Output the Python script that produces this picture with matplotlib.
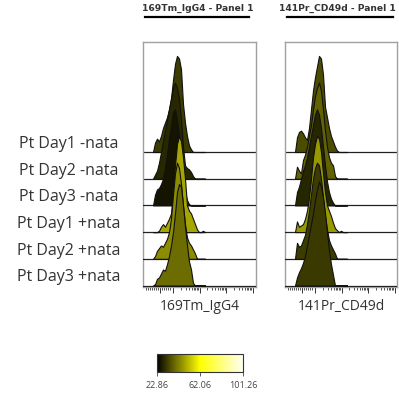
import matplotlib
matplotlib.use("Agg")
import matplotlib.pyplot as plt
import matplotlib.transforms as mtransforms
from matplotlib.colors import LinearSegmentedColormap, Normalize
from matplotlib.cm import ScalarMappable
import numpy as np

# sample names (top to bottom)
samples = ["Pt Day1 -nata", "Pt Day2 -nata", "Pt Day3 -nata",
           "Pt Day1 +nata", "Pt Day2 +nata", "Pt Day3 +nata"]
channels = ["169Tm_IgG4", "141Pr_CD49d"]
titles = ["169Tm_IgG4 - Panel 1", "141Pr_CD49d - Panel 1"]

# colour statistic per histogram (same order as samples)
stat_igg4 = [32.3, 29.0, 26.0, 48.3, 44.4, 39.7]
stat_cd49d = [34.6, 38.0, 28.7, 46.4, 32.3, 31.9]
cbar_ticks = [22.86, 62.06, 101.26]

# histogram bins (channel position) and mode-normalised heights
bins = [10, 12, 14, 16, 18, 20, 22, 24, 26, 28, 30, 32, 34, 36, 38, 40,
        42, 44, 46, 48, 50, 52, 54, 56, 58, 60, 62]

igg4_d1_minus = [0, 0.35, 0.5, 0.4, 0.6, 0.9, 1.1, 1.3, 1.6, 2.0, 2.7, 3.3, 3.6, 3.5,
                 3.1, 1.8, 1.1, 0.6, 0.25, 0.1, 0, 0, 0, 0, 0, 0, 0]
igg4_d2_minus = [0, 0.15, 0.3, 0.6, 1.0, 1.4, 1.8, 2.2, 2.6, 3.0, 3.4, 3.6, 3.4, 3.0,
                 2.2, 1.2, 0.5, 0.4, 0.35, 0.25, 0.1, 0, 0, 0, 0, 0, 0]
igg4_d3_minus = [0, 0.4, 0.6, 0.65, 0.8, 1.0, 1.4, 1.9, 2.5, 3.0, 3.5, 3.6, 3.2, 2.6,
                 1.8, 1.0, 0.5, 0.2, 0.05, 0, 0, 0, 0, 0, 0, 0, 0]
igg4_d1_plus = [0, 0, 0, 0.05, 0.2, 0.3, 0.2, 0.35, 0.5, 0.7, 1.5, 2.5, 3.3, 3.6,
                3.4, 2.8, 2.0, 1.0, 0.8, 0.7, 0.5, 0.3, 0.1, 0, 0, 0.05, 0]
igg4_d2_plus = [0, 0.1, 0.3, 0.4, 0.5, 0.45, 0.6, 0.75, 1.0, 1.5, 2.4, 3.2, 3.6, 3.4,
                2.8, 2.0, 1.3, 0.8, 0.6, 0.5, 0.35, 0.2, 0, 0, 0, 0, 0]
igg4_d3_plus = [0, 0.05, 0.25, 0.3, 0.45, 0.6, 0.55, 0.8, 1.1, 1.5, 2.0, 2.7, 3.5, 3.8,
                3.7, 3.0, 2.2, 1.5, 0.9, 0.6, 0.1, 0, 0, 0, 0, 0, 0]

cd49d_d1_minus = [0, 0.55, 0.75, 0.8, 0.7, 0.55, 0.45, 0.9, 1.6, 2.3, 2.8, 3.2, 3.6, 3.5,
                  2.9, 1.7, 1.3, 0.9, 0.6, 0.4, 0.2, 0.05, 0, 0, 0, 0, 0]
cd49d_d2_minus = [0, 0.45, 0.3, 0.2, 0.7, 0.9, 1.2, 1.6, 2.0, 2.6, 3.1, 3.4, 3.6, 3.3,
                  2.6, 1.8, 1.2, 0.8, 0.6, 0.5, 0.1, 0, 0, 0, 0, 0, 0]
cd49d_d3_minus = [0, 0.5, 0.7, 1.0, 1.3, 1.5, 1.8, 2.2, 2.6, 3.0, 3.4, 3.6, 3.4, 2.9,
                  2.2, 1.5, 0.9, 0.5, 0.25, 0.1, 0, 0, 0, 0, 0, 0, 0]
cd49d_d1_plus = [0, 0.4, 0.2, 0.25, 0.3, 0.5, 0.8, 1.3, 2.0, 2.8, 3.3, 3.6, 3.5, 3.0,
                 2.2, 1.5, 1.0, 0.8, 0.6, 0.35, 0.15, 0.07, 0, 0.05, 0, 0, 0]
cd49d_d2_plus = [0, 0.6, 0.45, 0.5, 0.7, 0.9, 1.3, 1.8, 2.4, 3.0, 3.4, 3.6, 3.5, 3.0,
                 2.3, 1.6, 1.1, 0.7, 0.5, 0.35, 0.2, 0, 0, 0, 0, 0, 0]
cd49d_d3_plus = [0, 0.3, 0.5, 0.65, 0.85, 1.1, 1.5, 1.9, 2.3, 2.7, 3.2, 3.6, 3.9, 3.7,
                 3.3, 2.7, 2.0, 1.3, 0.8, 0.4, 0, 0, 0, 0, 0, 0, 0]

hist_igg4 = [igg4_d1_minus, igg4_d2_minus, igg4_d3_minus,
             igg4_d1_plus, igg4_d2_plus, igg4_d3_plus]
hist_cd49d = [cd49d_d1_minus, cd49d_d2_minus, cd49d_d3_minus,
              cd49d_d1_plus, cd49d_d2_plus, cd49d_d3_plus]

cmap = LinearSegmentedColormap.from_list(
    "flowjo", [(0, "#000000"), (0.5, "#ffff00"), (1, "#fffff2")])
norm = Normalize(cbar_ticks[0], cbar_ticks[-1])

fig = plt.figure(figsize=(3.99, 3.97), dpi=100)
plt.rcParams['font.family'] = ['Open Sans', 'DejaVu Sans']

panel_rects = [[143 / 399, 1 - 287 / 397, 113 / 399, 245 / 397],
               [285 / 399, 1 - 287 / 397, 112 / 399, 245 / 397]]
panel_width = [113, 112]
title_x = [0.487, 0.464]
underline_x = [(0.018, 0.938), (0.018, 0.964)]

# biexponential-looking tick marks
minor = []
for d0 in [30, 56.5, 83]:
    minor += [d0 + 26.5 * np.log10(k) for k in range(2, 10)]
minor += [3, 5, 7, 9, 11, 13, 15, 19, 21, 23, 25, 27]
major = [17, 30, 56.5, 83, 109.5]

for p, (hists, stats) in enumerate([(hist_igg4, stat_igg4), (hist_cd49d, stat_cd49d)]):
    ax = fig.add_axes(panel_rects[p])
    n = len(samples)
    # top row drawn first so the lower rows sit in front
    for i in range(n):
        base = n - 1 - i
        y = base + np.array(hists[i])
        ax.plot([0, panel_width[p]], [base, base], color="#222222", lw=0.9, zorder=2 * i)
        ax.fill_between(bins, base, y, facecolor=cmap(norm(stats[i])),
                        edgecolor="#111111", lw=0.8, zorder=2 * i + 1)
    ax.set_xlim(0, panel_width[p])
    ax.set_ylim(-0.056, 9.12)
    ax.set_yticks([])
    ax.set_xticks(major)
    ax.set_xticks(minor, minor=True)
    ax.tick_params(axis="x", which="major", length=4, width=0.7, color="#333333",
                   labelbottom=False)
    ax.tick_params(axis="x", which="minor", length=2.5, width=0.6, color="#333333")
    for s in ax.spines.values():
        s.set_color("#a0a0a0")
        s.set_linewidth(1.0)
    ax.set_xlabel(channels[p], fontsize=10, color="#333333", labelpad=3)
    ax.text(title_x[p], 1.139, titles[p], transform=ax.transAxes, ha="center",
            va="center", fontsize=6.6, fontweight="bold", color="#333333",
            family="DejaVu Sans")
    # underline of the panel title
    ax.plot(underline_x[p], [1.104, 1.104], transform=ax.transAxes, color="black",
            lw=1.6, clip_on=False)
    if p == 0:
        trans = mtransforms.blended_transform_factory(ax.transAxes, ax.transData)
        for i, name in enumerate(samples):
            ax.text(-0.655, n - 1 - i + 0.3, name, transform=trans, ha="center",
                    va="center", fontsize=11.5, color="#333333")

cax = fig.add_axes([157 / 399, 1 - 372 / 397, 86 / 399, 18 / 397])
cb = fig.colorbar(ScalarMappable(norm=norm, cmap=cmap), cax=cax, orientation="horizontal")
cb.set_ticks(cbar_ticks)
cb.set_ticklabels(["%.2f" % v for v in cbar_ticks])
cb.outline.set_edgecolor("#333333")
cb.outline.set_linewidth(0.8)
cax.tick_params(labelsize=6.5, length=3, width=0.6, colors="#444444")

fig.savefig("out.png", dpi=100)
